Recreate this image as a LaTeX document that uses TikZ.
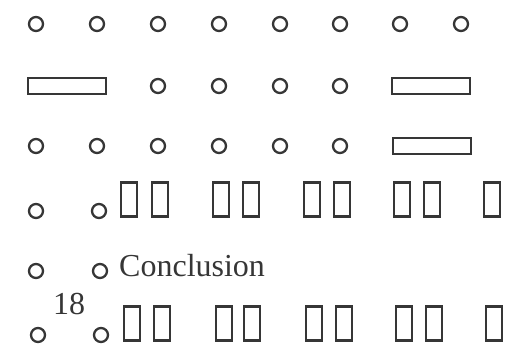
\documentclass[tikz,border=0pt]{standalone}
\usepackage{fontspec}
\setmainfont{Liberation Serif}
\usetikzlibrary{positioning}
\definecolor{tinta}{HTML}{363636}
\tikzset{
  punto/.style={circle, draw=tinta, line width=2.3pt, minimum size=14pt, inner sep=0pt},
  barra/.style={rectangle, draw=tinta, line width=2.2pt, minimum width=78pt,
    minimum height=16pt, inner sep=0pt},
  caja/.style={rectangle, draw=tinta, line width=2.2pt, minimum width=16pt,
    minimum height=34pt, inner sep=0pt},
  texto/.style={font=\fontsize{32}{36}\selectfont, text=tinta, inner sep=0pt, anchor=base west}
}

\begin{document}
\begin{tikzpicture}[x=1pt, y=-1pt]
  \useasboundingbox (0,0) rectangle (522,344);

  % --- Fila 1 ---
  \foreach \x [count=\i] in {36,97,158,219,280,340,400,461}
    \node[punto] (a\i) at (\x,24) {};

  % --- Fila 2 ---
  \node[barra] (b1) at (67,86) {};
  \foreach \x [count=\i from 2] in {158,219,280,340}
    \node[punto] (b\i) at (\x,86) {};
  \node[barra] (b6) at (431,86) {};

  % --- Fila 3 ---
  \foreach \x [count=\i] in {36,97,158,219,280,340}
    \node[punto] (c\i) at (\x,146) {};
  \node[barra] (c7) at (432,146) {};

  % --- Fila 4 ---
  \node[punto] (d1) at (36,211) {};
  \node[punto] (d2) at (99,211) {};
  \foreach \x [count=\i] in {129,160,221,251,312,342,402,432,492}
    \node[caja] (dk\i) at (\x,199.5) {};

  % --- Fila 5 ---
  \node[punto] (e1) at (36,271) {};
  \node[punto] (e2) at (100,271) {};
  \node[texto] (concl) at (119,277) {Conclusion};

  % --- Fila 6 ---
  \node[texto] (num) at (53,315) {18};
  \node[punto] (f1) at (38,335) {};
  \node[punto] (f2) at (101,335) {};
  \foreach \x [count=\i] in {132,162,224,252,314,344,404,434,494}
    \node[caja] (fk\i) at (\x,323.5) {};

\end{tikzpicture}
\end{document}
